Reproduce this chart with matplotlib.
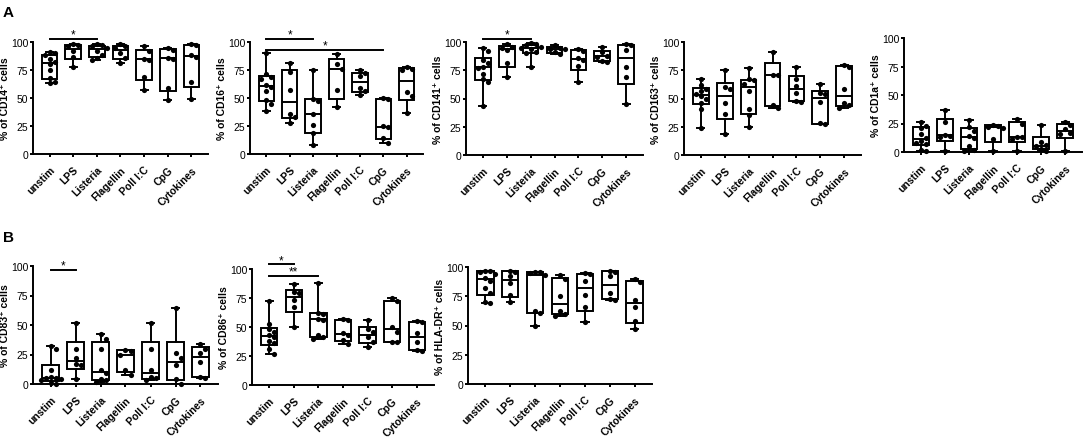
import numpy as np
import matplotlib
matplotlib.use("Agg")
import matplotlib.pyplot as plt

plt.rcParams['font.family'] = ['Liberation Sans', 'DejaVu Sans']

groups = ["unstim", "LPS", "Listeria", "Flagellin", "Poll I:C", "CpG", "Cytokines"]

# --Data (% positive cells per donor)--
cd14 = [[91, 90, 88, 85, 82, 80, 75, 68, 64, 63],
        [98, 97, 96, 92, 87, 78],
        [98, 97, 96, 95, 92, 88, 86, 84],
        [98, 96, 95, 90, 86, 81],
        [96, 92, 85, 84, 69, 57],
        [95, 93, 86, 85, 59, 48],
        [98, 97, 88, 87, 64, 49]]
cd16 = [[90, 71, 69, 67, 62, 60, 56, 48, 45, 38],
        [81, 73, 57, 36, 33, 28],
        [75, 49, 47, 36, 26, 19, 8],
        [89, 80, 76, 57, 42],
        [75, 72, 70, 59, 56, 53],
        [50, 49, 25, 24, 14, 10],
        [78, 76, 75, 55, 52, 37]]
cd141 = [[95, 92, 84, 81, 78, 77, 72, 67, 65, 43],
         [98, 96, 95, 93, 81, 69],
         [99, 98, 97, 96, 95, 94, 91, 90, 78],
         [97, 95, 94, 94, 91, 89],
         [94, 92, 86, 84, 79, 65],
         [96, 91, 88, 87, 83, 82],
         [98, 97, 93, 78, 69, 45]]
cd163 = [[67, 62, 58, 57, 54, 52, 50, 46, 41, 24],
         [75, 60, 58, 46, 36, 19],
         [77, 67, 66, 63, 57, 41, 35, 25],
         [91, 71, 71, 44, 42],
         [78, 67, 61, 55, 48, 47],
         [63, 55, 54, 47, 28, 27],
         [80, 78, 58, 46, 44, 42]]
cd1a = [[26, 23, 21, 16, 12, 10, 8, 7, 2, 1],
        [37, 26, 15, 14, 13, 1],
        [28, 22, 18, 14, 12, 5, 2, 1],
        [24, 23, 22, 21, 11, 1],
        [29, 25, 13, 13, 11, 1],
        [24, 9, 6, 5, 3, 1],
        [26, 24, 20, 17, 16, 1]]
cd83 = [[32, 30, 12, 6, 5, 5, 4, 3, 1, 0],
        [52, 30, 22, 17, 16, 4],
        [42, 38, 30, 12, 9, 4, 3, 2],
        [29, 28, 25, 12, 8],
        [52, 30, 12, 6, 5, 3],
        [64, 26, 22, 16, 4, 0],
        [34, 30, 26, 19, 6, 5]]
cd86 = [[72, 53, 48, 46, 43, 41, 38, 36, 31, 27],
        [87, 80, 79, 73, 67, 50],
        [88, 62, 61, 57, 56, 43, 41, 40],
        [57, 56, 45, 43, 39, 35],
        [56, 48, 46, 41, 37, 33],
        [75, 72, 50, 46, 37, 37],
        [55, 54, 45, 37, 30, 29]]
hladr = [[97, 97, 96, 94, 91, 88, 82, 78, 70, 69],
         [97, 96, 92, 86, 76, 70],
         [96, 96, 95, 93, 62, 61, 50],
         [93, 90, 75, 62, 60, 58],
         [95, 94, 88, 76, 66, 53],
         [97, 96, 92, 78, 73, 72],
         [90, 87, 72, 66, 54, 47]]

# significance bars: (from group, to group, height, label)
sig_cd14 = [(0, 2, 103, "*")]
sig_cd16 = [(0, 2, 103, "*"), (0, 5, 93, "*")]
sig_cd141 = [(0, 2, 103, "*")]
sig_cd83 = [(0, 1, 97, "*")]
sig_cd86 = [(0, 1, 104, "*"), (0, 2, 94, "**")]

W, H = 1084, 439

# pixel layout: spine x, axis end x, y of 100, y of 0
panels = [
    (cd14, "CD14", sig_cd14, (33, 208, 43, 155)),
    (cd16, "CD16", sig_cd16, (250, 423, 43, 155)),
    (cd141, "CD141", sig_cd141, (466, 643, 43, 156)),
    (cd163, "CD163", [], (684, 861, 43, 156)),
    (cd1a, "CD1a", [], (904, 1082, 39, 153)),
    (cd83, "CD83", sig_cd83, (33, 218, 267, 385)),
    (cd86, "CD86", sig_cd86, (252, 434, 270, 386)),
    (hladr, "HLA-DR", [], (468, 652, 268, 385)),
]

dot_px = 5.0


def swarm(vals, px_x, px_y):
    # place dots side by side where they would overlap (in pixel space)
    placed = []
    offs = []
    for v in vals:
        y = v * px_y
        k = 0
        while True:
            cand = [0.0] if k == 0 else [k * dot_px, -k * dot_px]
            ok = None
            for cx in cand:
                if all((cx - px) ** 2 + (y - py) ** 2 >= (0.95 * dot_px) ** 2 for px, py in placed):
                    ok = cx
                    break
            if ok is not None:
                break
            k += 1
        placed.append((ok, y))
        offs.append(ok / px_x)
    return np.array(offs)


fig = plt.figure(figsize=(W / 100, H / 100), dpi=100)
lw = 1.4
x0, x1 = -0.7, 6.7

for data, marker_name, sigs, (sx, ex, ytop, ybot) in panels:
    ax = fig.add_axes([sx / W, (H - ybot) / H, (ex - sx) / W, (ybot - ytop) / H])
    ax.set_xlim(x0, x1)
    ax.set_ylim(0, 100)
    px_x = (ex - sx) / (x1 - x0)
    px_y = (ybot - ytop) / 100

    stats = []
    for v in data:
        v = np.array(v, dtype=float)
        q1, med, q3 = np.percentile(v, [25, 50, 75], method='weibull')
        stats.append(dict(med=med, q1=q1, q3=q3, whislo=v.min(), whishi=v.max(), fliers=[]))
    ax.bxp(stats, positions=range(len(data)), widths=0.66, capwidths=0.3,
           patch_artist=True, showfliers=False,
           boxprops=dict(facecolor='white', edgecolor='black', linewidth=lw),
           medianprops=dict(color='black', linewidth=lw),
           whiskerprops=dict(color='black', linewidth=lw),
           capprops=dict(color='black', linewidth=lw))
    for i, v in enumerate(data):
        v = np.array(v, dtype=float)
        ax.scatter(i + swarm(v, px_x, px_y), v, s=14, color='black', zorder=5,
                   linewidths=0, clip_on=False)

    for i, j, yy, lab in sigs:
        ax.plot([i, j], [yy, yy], color='black', lw=lw, clip_on=False)
        ax.text((i + j) / 2, yy - 1.5, lab, ha='center', va='bottom', fontsize=8.5)

    ax.spines['top'].set_visible(False)
    ax.spines['right'].set_visible(False)
    ax.spines['left'].set_linewidth(lw)
    ax.spines['bottom'].set_linewidth(lw)
    ax.set_yticks([0, 25, 50, 75, 100])
    ax.tick_params(axis='y', labelsize=7.5, width=lw, length=2.5, pad=1)
    ax.set_xticks(np.arange(len(groups)))
    ax.set_xticklabels(groups, rotation=45, ha='right', va='top', rotation_mode='anchor',
                       fontsize=7.5, fontweight='bold')
    ax.tick_params(axis='x', width=lw, length=2.5, pad=5)
    ax.set_ylabel("% of " + marker_name + "\u207a cells", fontsize=7.5,
                  fontweight='bold', labelpad=0.5)

fig.text(3 / W, 1 - 6 / H, "A", fontsize=11, fontweight='bold', va='top', ha='left')
fig.text(3 / W, 1 - 231 / H, "B", fontsize=11, fontweight='bold', va='top', ha='left')

fig.savefig("out.png", dpi=100)
